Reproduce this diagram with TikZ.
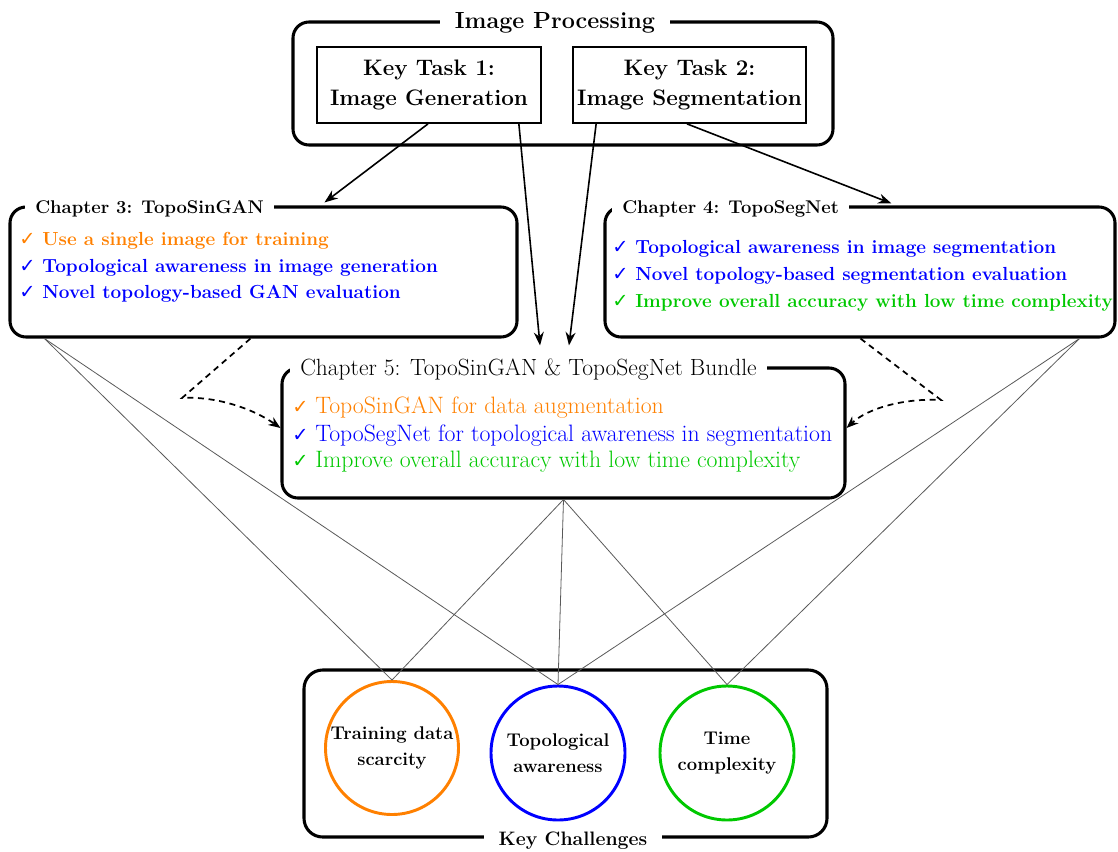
\documentclass[tikz,border=0pt]{standalone}
\usepackage{fontspec}
\newfontfamily\sym{DejaVu Sans}
\usetikzlibrary{arrows.meta}
\definecolor{orC}{RGB}{255,128,0}
\definecolor{blC}{RGB}{0,0,255}
\definecolor{grC}{RGB}{0,200,0}
\newcommand{\chk}{\makebox[17.25pt][l]{\sym\fontsize{14.5}{16}\selectfont ✓}}
\begin{document}
\begin{tikzpicture}[x=0.75pt,y=-0.75pt,
  bigbox/.style={draw, line width=2.3pt, rounded corners=12pt, inner sep=0pt},
  ktbox/.style={draw, line width=1.3pt, inner sep=0pt, minimum height=57pt, align=center,
    font=\bfseries\fontsize{16.8}{22.5}\selectfont},
  ttl/.style={fill=white, inner xsep=7.5pt, inner ysep=1.5pt, anchor=base west,
    font=\bfseries\fontsize{13.8}{16}\selectfont},
  ttlc/.style={fill=white, inner xsep=11pt, inner ysep=1.5pt, anchor=base},
  itbf/.style={anchor=base west, inner sep=0pt, font=\bfseries\fontsize{14.2}{16}\selectfont},
  itrm/.style={anchor=base west, inner sep=0pt, font=\fontsize{17.8}{20}\selectfont},
  ccirc/.style={circle, draw, line width=2.2pt, inner sep=0pt},
  ctxt/.style={align=center, inner sep=0pt, font=\bfseries\fontsize{13.8}{19.5}\selectfont},
  thinln/.style={draw=black!65, line width=0.6pt},
  arrln/.style={line width=1.2pt, -{Stealth[length=10pt,width=7.5pt]}},
  dshln/.style={line width=1.3pt, dash pattern=on 4.5pt off 3.5pt, -{Stealth[length=9pt,width=7pt]}}
]
\useasboundingbox (0,0) rectangle (1118,851);

% boxes
\node[bigbox, minimum width=405pt, minimum height=92.25pt] (ip) at (563,83.5) {};
\node[ktbox, minimum width=168pt] (kt1) at (429,85) {Key Task 1:\\Image Generation};
\node[ktbox, minimum width=174.75pt] (kt2) at (689.5,85) {Key Task 2:\\Image Segmentation};

\node[bigbox, minimum width=380.25pt, minimum height=97.5pt] (ch3) at (263.5,272) {};
\node[bigbox, minimum width=382.5pt, minimum height=97.5pt] (ch4) at (860,272) {};
\node[bigbox, minimum width=422.25pt, minimum height=97.5pt] (ch5) at (563.5,433) {};
\node[bigbox, rounded corners=14pt, minimum width=392.25pt, minimum height=125.25pt] (kc) at (565.5,753.5) {};

% circles
\node[ccirc, draw=orC, minimum size=99.75pt] (c1) at (392,748) {};
\node[ccirc, draw=blC, minimum size=100.5pt] (c2) at (558,753) {};
\node[ccirc, draw=grC, minimum size=100.5pt] (c3) at (727,753) {};
\node[ctxt] (l1) at (c1) {Training data\\scarcity};
\node[ctxt] (l2) at (c2) {Topological\\awareness};
\node[ctxt] (l3) at (c3) {Time\\complexity};

% thin connectors
\draw[thinln] ([xshift=27pt]ch3.south west) -- (c1.north);
\draw[thinln] ([xshift=27pt]ch3.south west) -- (c2.north);
\draw[thinln] (ch5.south) -- (c1.north);
\draw[thinln] (ch5.south) -- (c2.north);
\draw[thinln] (ch5.south) -- (c3.north);
\draw[thinln] ([xshift=-27.75pt]ch4.south east) -- (c2.north);
\draw[thinln] ([xshift=-27.75pt]ch4.south east) -- (c3.north);

% titles
\node[ttlc, font=\bfseries\fontsize{17.5}{20}\selectfont] (ipt) at (555,28) {Image Processing};
\node[ttl] (t3) at (25,213) {Chapter 3: TopoSinGAN};
\node[ttl] (t4) at (612,213) {Chapter 4: TopoSegNet};
\node[ttl, font=\fontsize{17.6}{20}\selectfont] (t5) at (290,375) {Chapter 5: TopoSinGAN \& TopoSegNet Bundle};
\node[ttlc, font=\bfseries\fontsize{14.6}{17}\selectfont] (kct) at (573,845) {Key Challenges};

% items
\node[itbf, text=orC] (a1) at (19,245) {\chk Use a single image for training};
\node[itbf, text=blC] (a2) at (19,272) {\chk Topological awareness in image generation};
\node[itbf, text=blC] (a3) at (19,298) {\chk Novel topology-based GAN evaluation};
\node[itbf, text=blC] (b1) at (612,253) {\chk Topological awareness in image segmentation};
\node[itbf, text=blC] (b2) at (612,280) {\chk Novel topology-based segmentation evaluation};
\node[itbf, text=grC] (b3) at (612,307) {\chk Improve overall accuracy with low time complexity};
\node[itrm, text=orC] (d1) at (292,413) {\chk TopoSinGAN for data augmentation};
\node[itrm, text=blC] (d2) at (292,441) {\chk TopoSegNet for topological awareness in segmentation};
\node[itrm, text=grC] (d3) at (292,467) {\chk Improve overall accuracy with low time complexity};

% arrows
\draw[arrln] ([xshift=-0.75pt]kt1.south) -- ([xshift=237pt,yshift=2.25pt]ch3.north west);
\draw[arrln] ([xshift=-17.25pt]kt1.south east) -- ([xshift=-17.6pt,yshift=15.75pt]ch5.north);
\draw[arrln] ([xshift=18pt]kt2.south west) -- ([xshift=4.1pt,yshift=15.75pt]ch5.north);
\draw[arrln] ([xshift=-1.9pt]kt2.south) -- ([xshift=216pt,yshift=1.5pt]ch4.north west);

% dashed arrows
\draw[dshln] ([xshift=181.5pt]ch3.south west) -- (182,398) .. controls (215,396) and (252,408) .. ([yshift=3.75pt]ch5.west);
\draw[dshln] ([xshift=192.75pt]ch4.south west) -- (941,400) .. controls (905,398) and (868,408) .. ([yshift=3.75pt]ch5.east);
\end{tikzpicture}
\end{document}
